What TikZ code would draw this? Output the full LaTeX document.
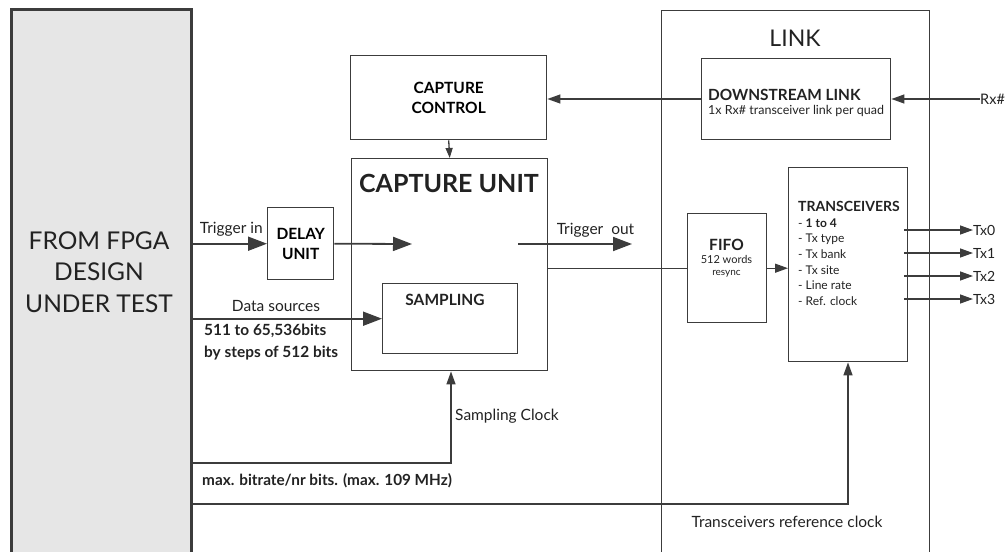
\documentclass[tikz,border=0pt]{standalone}
\usepackage{fontspec}
\setmainfont{Lato}
\usetikzlibrary{arrows.meta}

\definecolor{linegray}{HTML}{3C3C3C}
\definecolor{fpgagray}{HTML}{E6E6E6}
\definecolor{ink}{HTML}{222222}

\tikzset{
  box/.style={draw=linegray, line width=1.4pt, inner sep=0pt, anchor=north west},
  lbl/.style={inner sep=0pt, text=ink},
  wire/.style={draw=linegray, line width=1.3pt},
  sig/.style={wire, -{Triangle[length=13pt,width=9pt]}},
  bigsig/.style={wire, line width=1.8pt, -{Triangle[length=19pt,width=14pt]}},
}
\newcommand{\fs}[2]{\fontsize{#1}{#2}\selectfont}

\begin{document}
\begin{tikzpicture}[x=1pt,y=-1pt]
\clip (0,0) rectangle (1008,551);

% design under test
\node[box, fill=fpgagray, line width=2.6pt, minimum width=180pt, minimum height=580pt] (fpga) at (10,8) {};
\node[lbl, align=center, font=\fs{24.5}{31.5}] (fpgatxt) at (99,272)
  {FROM FPGA\\DESIGN\\UNDER TEST};

% capture side
\node[box, minimum width=196pt, minimum height=84pt, align=center, font=\bfseries\fs{15.5}{20}] (ctrl) at (350,55)
  {CAPTURE\\CONTROL};
\node[box, minimum width=196pt, minimum height=212pt] (cunit) at (351,158) {};
\node[lbl, font=\bfseries\fs{25}{30}] (cunittxt) at (449,183) {CAPTURE UNIT};
\node[box, minimum width=135pt, minimum height=70pt] (sampling) at (382,283) {};
\node[lbl, font=\bfseries\fs{15.5}{19}] (samplingtxt) at (445,300) {SAMPLING};
\node[box, minimum width=66pt, minimum height=72pt, align=center, font=\bfseries\fs{15.5}{20}] (delay) at (267,207)
  {DELAY\\UNIT};

% link side
\node[box, minimum width=268pt, minimum height=580pt] (link) at (661,10) {};
\node[lbl, font=\fs{23}{28}] (linktxt) at (795,38.5) {LINK};
\node[box, minimum width=189pt, minimum height=81pt] (dslink) at (701,58) {};
\node[lbl, anchor=west, align=left] (dslinktxt) at (708,103)
  {\bfseries\fs{15.4}{18}DOWNSTREAM LINK\\[2pt]\fs{12.5}{15}1x Rx\# transceiver link per quad};
\node[box, minimum width=79pt, minimum height=109pt] (fifo) at (687,213) {};
\node[lbl, align=center] (fifotxt) at (726.5,258)
  {\bfseries\fs{15.5}{18}FIFO\\[1pt]\fs{11}{14}512 words\\resync};
\node[box, minimum width=119pt, minimum height=194pt] (xcvr) at (788,167) {};
\node[lbl, anchor=north west, align=left, font=\fs{12}{15.7}] (xcvrtxt) at (798,201)
  {{\bfseries\fs{14}{15.7}TRANSCEIVERS}\\- \textbf{1 to 4}\\- Tx type\\- Tx bank\\- Tx site\\- Line rate\\- Ref. clock};

% control path
\node[lbl, anchor=west, font=\fs{14.5}{17}] (rx) at (980,99) {Rx\#};
\draw[sig] (rx.west) -- (dslink.east |- rx.west);
\draw[sig] (dslink.west |- rx.west) -- (ctrl.east |- rx.west);
\draw[wire, -{Triangle[length=10pt,width=7pt]}] (ctrl.south) -- (cunit.north);

% trigger
\draw[bigsig] (fpga.east |- delay.west) -- (delay.west)
  node[lbl, pos=0.52, above=6pt, font=\fs{15.5}{18}] (trigin) {Trigger in};
\coordinate (tend) at (412,244);
\draw[bigsig] (delay.east) -- (tend);
\coordinate (tout) at (518,244);
\coordinate (toutend) at (632,244);
\draw[bigsig] (tout) -- (toutend)
  node[lbl, pos=0.68, above=6pt, font=\fs{15.5}{18}] (trigout) {Trigger~~out};

% data
\draw[bigsig] (fpga.east |- sampling.west) -- (sampling.west)
  node[lbl, pos=0.44, above=6pt, font=\fs{15.5}{18}] (datasrc) {Data sources};
\node[lbl, anchor=north west, align=left, font=\bfseries\fs{15.4}{22}] (datawidth) at (204,324)
  {511 to 65,536bits\\by steps of 512 bits};
\draw[wire] (fifo.west -| cunit.east) -- (fifo.west);
\draw[sig] (fifo.east) -- (fifo.east -| xcvr.west);

% clocks
\coordinate (sclk) at (451,463);
\draw[sig] (sclk -| fpga.east) -- (sclk) -- (sclk |- cunit.south);
\node[lbl, anchor=west, font=\fs{15.5}{18}] (sclktxt) at (455,416) {Sampling Clock};
\node[lbl, anchor=west, font=\bfseries\fs{15.3}{18}] (sclkrate) at (202,481) {max. bitrate/nr bits. (max. 109 MHz)};
\coordinate (rclk) at (848,504);
\draw[sig] (rclk -| fpga.east) -- (rclk) -- (rclk |- xcvr.south);
\node[lbl, font=\fs{15.5}{18}] (rclktxt) at (787,522) {Transceivers reference clock};

% outputs
\foreach \i/\y in {0/230,1/253,2/276,3/299} {
  \node[lbl, anchor=west, font=\fs{14}{17}] (tx\i) at (973,\y) {Tx\i};
  \draw[sig] ([xshift=-4pt]xcvr.east |- tx\i.west) -- (tx\i.west);
}
\end{tikzpicture}
\end{document}
